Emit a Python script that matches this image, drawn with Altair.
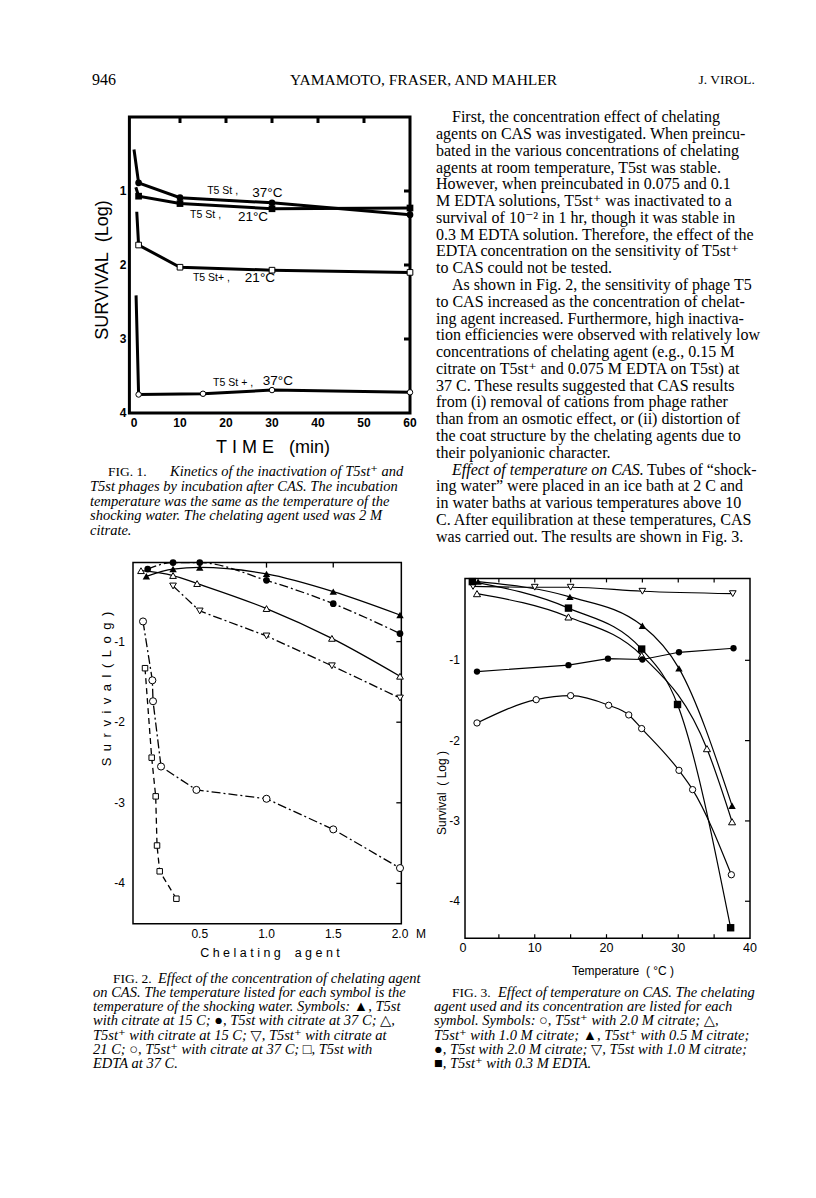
import altair as alt
import pandas as pd

SERIF = "Liberation Serif, Times New Roman, DejaVu Serif"
SANS = "Liberation Sans, Arial, DejaVu Sans"
NB = "\u00a0"

# ---------------- Fig. 1 data : survival (log) vs time (min) ----------------
f1_x_ticks = [0, 10, 20, 30, 40, 50, 60]
f1_y_ticks = [1, 2, 3, 4]
f1_top_ticks = [10, 20, 30, 40, 50]
f1_right_ticks = [1, 2, 3]

st37_time = [1, 10, 30, 60]
st37_surv = [0.89, 1.09, 1.16, 1.32]
st21_time = [1, 10, 30, 60]
st21_surv = [1.07, 1.17, 1.24, 1.23]
stp21_time = [1, 10, 30, 60]
stp21_surv = [1.73, 2.03, 2.07, 2.10]
stp37_time = [1, 15, 30, 60]
stp37_surv = [3.75, 3.74, 3.69, 3.72]
# first drawn point of each steep initial drop (no symbol)
drop_time = [0.0, 0.4, 0.6, 0.45]
drop_surv = [0.44, 0.95, 1.28, 2.41]

f1_names = ["T5 St ,", "T5 St ,", "T5 St+ ,", "T5 St + ,"]
f1_name_t = [15.9, 12.2, 12.8, 17.2]
f1_name_v = [1.00, 1.32, 2.18, 3.59]
f1_temps = ["37°C", "21°C", "21°C", "37°C"]
f1_temp_t = [25.7, 22.6, 24.1, 28.0]
f1_temp_v = [1.03, 1.35, 2.18, 3.57]

# ---------------- Fig. 2 data : survival (log) vs chelating agent (M) ----------------
f2_x_ticks = [0.5, 1.0, 1.5, 2.0]
f2_x_labels = ["0.5", "1.0", "1.5", "2.0"]
f2_y_ticks = [-1, -2, -3, -4]
f2_y_labels = ["-1", "-2", "-3", "-4"]

a_tri_f_c = [0.1, 0.3, 0.5, 1.0, 1.5, 2.0]          # T5st citrate 15 C
a_tri_f_v = [-0.19, -0.10, -0.08, -0.16, -0.38, -0.67]
a_cir_f_c = [0.11, 0.3, 0.5, 1.0, 1.5, 2.0]         # T5st citrate 37 C
a_cir_f_v = [-0.10, -0.02, -0.02, -0.24, -0.53, -0.90]
a_tri_o_c = [0.06, 0.3, 0.48, 1.0, 1.49, 2.0]       # T5st+ citrate 15 C
a_tri_o_v = [-0.12, -0.18, -0.28, -0.59, -0.96, -1.43]
a_inv_o_c = [0.3, 0.5, 1.0, 1.49, 2.0]              # T5st+ citrate 21 C
a_inv_o_v = [-0.31, -0.62, -0.93, -1.30, -1.70]
a_cir_o_c = [0.075, 0.145, 0.15, 0.21, 0.475, 1.0, 1.5, 2.0]   # T5st+ citrate 37 C
a_cir_o_v = [-0.75, -1.48, -1.74, -2.55, -2.84, -2.95, -3.33, -3.81]
a_sq_o_c = [0.09, 0.14, 0.17, 0.18, 0.2, 0.325]     # T5st EDTA 37 C
a_sq_o_v = [-1.33, -2.44, -2.92, -3.53, -3.85, -4.19]

# ---------------- Fig. 3 data : survival (log) vs temperature (C) ----------------
f3_x_ticks = [0, 10, 20, 30, 40]
f3_minor = [5, 10, 15, 20, 25, 30, 35]
f3_y_ticks = [-1, -2, -3, -4]
f3_y_labels = ["-1", "-2", "-3", "-4"]

b_cir_o_t = [1.95, 10.2, 15.0, 20.3, 23.1, 24.9, 30.1, 32.0, 37.4]
b_cir_o_v = [-1.78, -1.49, -1.44, -1.56, -1.68, -1.85, -2.37, -2.61, -3.67]
b_tri_o_t = [1.95, 14.7, 24.9, 34.0, 37.5]
b_tri_o_v = [-0.17, -0.46, -0.94, -2.10, -3.01]
b_tri_f_t = [2.1, 14.9, 25.0, 30.1, 37.5]
b_tri_f_v = [-0.02, -0.21, -0.57, -1.10, -2.81]
b_cir_f_t = [1.95, 14.7, 20.2, 25.0, 30.1, 37.7]
b_cir_f_v = [-1.14, -1.06, -0.98, -0.99, -0.90, -0.85]
b_inv_o_t = [1.4, 10.0, 15.0, 25.0, 37.6]
b_inv_o_v = [-0.08, -0.09, -0.09, -0.14, -0.17]
b_sq_f_t = [1.3, 14.7, 24.9, 29.9, 37.3]
b_sq_f_v = [-0.02, -0.35, -0.86, -1.55, -4.33]

# ---------------- page text ----------------
body_lines = [
    "First, the concentration effect of chelating",
    "agents on CAS was investigated. When preincu-",
    "bated in the various concentrations of chelating",
    "agents at room temperature, T5st was stable.",
    "However, when preincubated in 0.075 and 0.1",
    "M EDTA solutions, T5st\u207a was inactivated to a",
    "survival of 10\u207b\u00b2 in 1 hr, though it was stable in",
    "0.3 M EDTA solution. Therefore, the effect of the",
    "EDTA concentration on the sensitivity of T5st\u207a",
    "to CAS could not be tested.",
    "As shown in Fig. 2, the sensitivity of phage T5",
    "to CAS increased as the concentration of chelat-",
    "ing agent increased. Furthermore, high inactiva-",
    "tion efficiencies were observed with relatively low",
    "concentrations of chelating agent (e.g., 0.15 M",
    "citrate on T5st\u207a and 0.075 M EDTA on T5st) at",
    "37 C. These results suggested that CAS results",
    "from (i) removal of cations from phage rather",
    "than from an osmotic effect, or (ii) distortion of",
    "the coat structure by the chelating agents due to",
    "their polyanionic character.",
    "Tubes of \u201cshock-",
    "ing water\u201d were placed in an ice bath at 2 C and",
    "in water baths at various temperatures above 10",
    "C. After equilibration at these temperatures, CAS",
    "was carried out. The results are shown in Fig. 3.",
]
body_italic_head = "Effect of temperature on CAS."

cap1_lines = [
    "Kinetics of the inactivation of T5st\u207a and",
    "T5st phages by incubation after CAS. The incubation",
    "temperature was the same as the temperature of the",
    "shocking water. The chelating agent used was 2 M",
    "citrate.",
]
cap2_lines = [
    "Effect of the concentration of chelating agent",
    "on CAS. The temperature listed for each symbol is the",
    "temperature of the shocking water. Symbols: \u25b2, T5st",
    "with citrate at 15 C; \u25cf, T5st with citrate at 37 C; \u25b3,",
    "T5st\u207a with citrate at 15 C; \u25bd, T5st\u207a with citrate at",
    "21 C; \u25cb, T5st\u207a with citrate at 37 C; \u25a1, T5st with",
    "EDTA at 37 C.",
]
cap3_lines = [
    "Effect of temperature on CAS. The chelating",
    "agent used and its concentration are listed for each",
    "symbol. Symbols: \u25cb, T5st\u207a with 2.0 M citrate; \u25b3,",
    "T5st\u207a with 1.0 M citrate; \u25b2, T5st\u207a with 0.5 M citrate;",
    "\u25cf, T5st with 2.0 M citrate; \u25bd, T5st with 1.0 M citrate;",
    "\u25a0, T5st\u207a with 0.3 M EDTA.",
]


# ---------------- helpers ----------------
def sc(domain, rng):
    return alt.Scale(domain=domain, range=rng, nice=False, zero=False)


def df_xy(xs, ys):
    return pd.DataFrame({"x": list(xs), "y": list(ys), "o": list(range(len(xs)))})


def xy(ch, X, Y):
    return ch.encode(x=alt.X("x:Q", scale=X, axis=None), y=alt.Y("y:Q", scale=Y, axis=None))


def frame(xr, yr, X, Y, sw):
    d = pd.DataFrame({"x": [xr[0]], "x2": [xr[1]], "y": [yr[0]], "y2": [yr[1]]})
    return alt.Chart(d).mark_rect(fillOpacity=0, stroke="black", strokeWidth=sw).encode(
        x=alt.X("x:Q", scale=X, axis=None), x2="x2:Q",
        y=alt.Y("y:Q", scale=Y, axis=None), y2="y2:Q")


def ticks(xs, ys, X, Y, path, length, sw):
    m = alt.Chart(df_xy(xs, ys)).mark_point(
        shape=path, size=(2 * length) ** 2, color="black", filled=False,
        strokeWidth=sw, opacity=1)
    return xy(m, X, Y)


def line(xs, ys, X, Y, sw, dash=None, interp="linear"):
    kw = dict(color="black", strokeWidth=sw, interpolate=interp)
    if dash:
        kw["strokeDash"] = dash
    return alt.Chart(df_xy(xs, ys)).mark_line(**kw).encode(
        x=alt.X("x:Q", scale=X, axis=None), y=alt.Y("y:Q", scale=Y, axis=None),
        order="o:Q")


def pts(xs, ys, X, Y, shape, filled, size, sw=1.0):
    if filled:
        m = alt.Chart(df_xy(xs, ys)).mark_point(
            shape=shape, filled=True, color="black", size=size, opacity=1)
    else:
        m = alt.Chart(df_xy(xs, ys)).mark_point(
            shape=shape, filled=True, fill="white", stroke="black",
            strokeWidth=sw, size=size, opacity=1)
    return xy(m, X, Y)


def dtext(xs, ys, texts, X, Y, **kw):
    d = pd.DataFrame({"x": list(xs), "y": list(ys), "s": list(texts)})
    return alt.Chart(d).mark_text(**kw).encode(
        x=alt.X("x:Q", scale=X, axis=None), y=alt.Y("y:Q", scale=Y, axis=None),
        text="s:N")


def ftext(s, x, y, **kw):
    return alt.Chart(pd.DataFrame({"s": [s]})).mark_text(**kw).encode(
        x=alt.value(x), y=alt.value(y), text="s:N")


def block(segments, n, y_first, y_last):
    """segments: list of (line index, text, left x, style, font size)"""
    Yl = alt.Scale(domain=[0, n - 1], range=[y_first, y_last], nice=False, zero=False)
    groups = {}
    for i, s, x, st, fs in segments:
        groups.setdefault((x, st, fs), []).append((i, s))
    layers = []
    for (x, st, fs), rows in groups.items():
        d = pd.DataFrame({"i": [r[0] for r in rows], "s": [r[1] for r in rows]})
        layers.append(alt.Chart(d).mark_text(
            align="left", baseline="middle", font=SERIF, fontSize=fs,
            fontStyle=st, color="black").encode(
            x=alt.value(x), y=alt.Y("i:Q", scale=Yl, axis=None), text="s:N"))
    return alt.layer(*layers)


# ---------------- Fig. 1 ----------------
X1 = sc([0, 60], [126, 402])
Y1 = sc([0, 4], [109, 405])
fig1 = alt.layer(
    frame([-1, 60], [0, 4], X1, Y1, 3),
    ticks(f1_top_ticks, [0] * len(f1_top_ticks), X1, Y1, "M0,0L0,1", 6, 3),
    ticks([60] * len(f1_right_ticks), f1_right_ticks, X1, Y1, "M0,0L-1,0", 6, 3),
    line([drop_time[0]] + st37_time, [drop_surv[0]] + st37_surv, X1, Y1, 3),
    line([drop_time[1]] + st21_time, [drop_surv[1]] + st21_surv, X1, Y1, 3),
    line([drop_time[2]] + stp21_time, [drop_surv[2]] + stp21_surv, X1, Y1, 3),
    line([drop_time[3]] + stp37_time, [drop_surv[3]] + stp37_surv, X1, Y1, 3),
    pts(st37_time, st37_surv, X1, Y1, "circle", True, 45),
    pts(st21_time, st21_surv, X1, Y1, "square", True, 45),
    pts(stp21_time, stp21_surv, X1, Y1, "square", False, 32, 1.0),
    pts(stp37_time, stp37_surv, X1, Y1, "circle", False, 30, 1.0),
    dtext(f1_name_t, f1_name_v, f1_names, X1, Y1, align="left", baseline="middle",
          font=SANS, fontSize=10.5, color="black"),
    dtext(f1_temp_t, f1_temp_v, f1_temps, X1, Y1, align="left", baseline="middle",
          font=SANS, fontSize=13.5, color="black"),
    dtext(f1_x_ticks, [4] * len(f1_x_ticks), [str(v) for v in f1_x_ticks], X1, Y1,
          align="center", baseline="middle", dy=10, font=SANS, fontSize=12,
          fontWeight="bold", color="black"),
    dtext([-1] * len(f1_y_ticks), f1_y_ticks, [str(v) for v in f1_y_ticks], X1, Y1,
          align="right", baseline="middle", dx=-3, font=SANS, fontSize=12,
          fontWeight="bold", color="black"),
    ftext("SURVIVAL" + NB * 2 + "(Log)", 95, 262, angle=270, align="center",
          baseline="middle", font=SANS, fontSize=18, color="black"),
    ftext(NB.join("TIME") + NB * 3 + "(min)", 265, 440, align="center",
          baseline="middle", font=SANS, fontSize=18, color="black"),
)

# ---------------- Fig. 2 ----------------
X2 = sc([0, 2], [125, 392])
Y2 = sc([0, -4.5], [553, 915.7])
DD = [9, 3, 2, 3]
fig2 = alt.layer(
    frame([0, 2.01], [-0.02, -4.5], X2, Y2, 1.5),
    ticks([0.5, 1.0, 1.5], [-0.02] * 3, X2, Y2, "M0,0L0,1", 5, 1.3),
    ticks([2.01] * 4, f2_y_ticks, X2, Y2, "M0,0L-1,0", 5, 1.3),
    line(a_tri_f_c, a_tri_f_v, X2, Y2, 1.3, interp="monotone"),
    line(a_cir_f_c, a_cir_f_v, X2, Y2, 1.3, dash=DD, interp="monotone"),
    line(a_tri_o_c, a_tri_o_v, X2, Y2, 1.3, interp="monotone"),
    line(a_inv_o_c, a_inv_o_v, X2, Y2, 1.3, dash=DD),
    line(a_cir_o_c, a_cir_o_v, X2, Y2, 1.3, dash=DD),
    line(a_sq_o_c, a_sq_o_v, X2, Y2, 1.3, dash=[6, 4]),
    pts(a_tri_o_c, a_tri_o_v, X2, Y2, "triangle-up", False, 45, 1.0),
    pts(a_inv_o_c, a_inv_o_v, X2, Y2, "triangle-down", False, 45, 1.0),
    pts(a_cir_o_c, a_cir_o_v, X2, Y2, "circle", False, 50, 1.0),
    pts(a_sq_o_c, a_sq_o_v, X2, Y2, "square", False, 30, 1.0),
    pts(a_cir_f_c, a_cir_f_v, X2, Y2, "circle", True, 45),
    pts(a_tri_f_c, a_tri_f_v, X2, Y2, "triangle-up", True, 55),
    dtext(f2_x_ticks, [-4.5] * 4, f2_x_labels, X2, Y2, align="center",
          baseline="middle", dy=10, font=SANS, fontSize=12, color="black"),
    dtext([2.0], [-4.5], ["M"], X2, Y2, align="left", baseline="middle", dx=16,
          dy=10, font=SANS, fontSize=12, color="black"),
    dtext([0] * 4, f2_y_ticks, f2_y_labels, X2, Y2, align="right",
          baseline="middle", dx=-8, font=SANS, fontSize=12, color="black"),
    ftext("\u2002".join("Survival(Log)"), 99, 681, angle=270, align="center",
          baseline="middle", font=SANS, fontSize=13, color="black"),
    ftext(NB.join("Chelating") + NB * 4 + NB.join("agent"), 262, 945,
          align="center", baseline="middle", font=SANS, fontSize=12.5,
          color="black"),
)

# ---------------- Fig. 3 ----------------
X3 = sc([0, 40], [455, 742])
Y3 = sc([0, -4.5], [572, 933.4])
fig3 = alt.layer(
    frame([0.28, 40], [0.02, -4.46], X3, Y3, 1.5),
    ticks(f3_minor, [0.02] * len(f3_minor), X3, Y3, "M0,0L0,1", 4, 1.2),
    ticks(f3_minor, [-4.46] * len(f3_minor), X3, Y3, "M0,0L0,-1", 4, 1.2),
    ticks([40] * 4, f3_y_ticks, X3, Y3, "M0,0L-1,0", 5, 1.2),
    line(b_cir_o_t, b_cir_o_v, X3, Y3, 1.2, interp="monotone"),
    line(b_tri_o_t, b_tri_o_v, X3, Y3, 1.2, interp="monotone"),
    line(b_tri_f_t, b_tri_f_v, X3, Y3, 1.2, interp="monotone"),
    line(b_cir_f_t, b_cir_f_v, X3, Y3, 1.2),
    line(b_inv_o_t, b_inv_o_v, X3, Y3, 1.2, interp="monotone"),
    line(b_sq_f_t, b_sq_f_v, X3, Y3, 1.2, interp="monotone"),
    pts(b_cir_o_t, b_cir_o_v, X3, Y3, "circle", False, 40, 1.0),
    pts(b_tri_o_t, b_tri_o_v, X3, Y3, "triangle-up", False, 50, 1.0),
    pts(b_inv_o_t, b_inv_o_v, X3, Y3, "triangle-down", False, 45, 1.0),
    pts(b_tri_f_t, b_tri_f_v, X3, Y3, "triangle-up", True, 55),
    pts(b_cir_f_t, b_cir_f_v, X3, Y3, "circle", True, 40),
    pts(b_sq_f_t, b_sq_f_v, X3, Y3, "square", True, 55),
    dtext(f3_x_ticks, [-4.46] * 5, [str(v) for v in f3_x_ticks], X3, Y3,
          align="center", baseline="middle", dy=10, font=SANS, fontSize=12.5,
          color="black"),
    dtext([0.28] * 4, f3_y_ticks, f3_y_labels, X3, Y3, align="right",
          baseline="middle", dx=-5, font=SANS, fontSize=12, color="black"),
    ftext("Survival" + NB * 2 + "(" + NB + "Log" + NB + ")", 434, 785, angle=270,
          align="center", baseline="middle", font=SANS, fontSize=12, color="black"),
    ftext("Temperature" + NB * 2 + "(" + NB + "\u00b0C" + NB + ")", 615, 963,
          align="center", baseline="middle", font=SANS, fontSize=12, color="black"),
)

# ---------------- page text ----------------
header = alt.layer(
    ftext("946", 84, 72, align="left", baseline="middle", font=SERIF, fontSize=16,
          color="black"),
    ftext("YAMAMOTO, FRASER, AND MAHLER", 282, 72, align="left", baseline="middle",
          font=SERIF, fontSize=15.5, color="black"),
    ftext("J. VIROL.", 747, 72, align="right", baseline="middle", font=SERIF,
          fontSize=13.5, color="black"),
)

body_segments = []
for i, s in enumerate(body_lines):
    if i == 21:
        body_segments.append((i, body_italic_head, 444, "italic", 16))
        body_segments.append((i, s, 639, "normal", 16))
    else:
        body_segments.append((i, s, 444 if i in (0, 10) else 428, "normal", 16))
body = block(body_segments, len(body_lines), 109.3, 528.6)


def caption(label, lines, x_left, x_label, x_rest, y_first, y_last):
    segs = [(0, label, x_label, "normal", 13.5), (0, lines[0], x_rest, "italic", 14.5)]
    segs += [(i, s, x_left, "italic", 14.5) for i, s in enumerate(lines) if i > 0]
    return block(segs, len(lines), y_first, y_last)


cap1 = caption("FIG. 1.", cap1_lines, 82, 100, 162, 464, 523)
cap2 = caption("FIG. 2.", cap2_lines, 85, 105, 150, 970.5, 1056.3)
cap3 = caption("FIG. 3.", cap3_lines, 426, 444, 490, 984.8, 1056.3)

chart = alt.layer(
    header, fig1, body, cap1, fig2, fig3, cap2, cap3
).resolve_scale(
    x="independent", y="independent"
).properties(
    width=800, height=1182, padding=0, background="white",
    autosize=alt.AutoSizeParams(type="none"),
).configure_view(strokeWidth=0)

chart.save("out.html", embed_options={"renderer": "svg", "actions": False})
